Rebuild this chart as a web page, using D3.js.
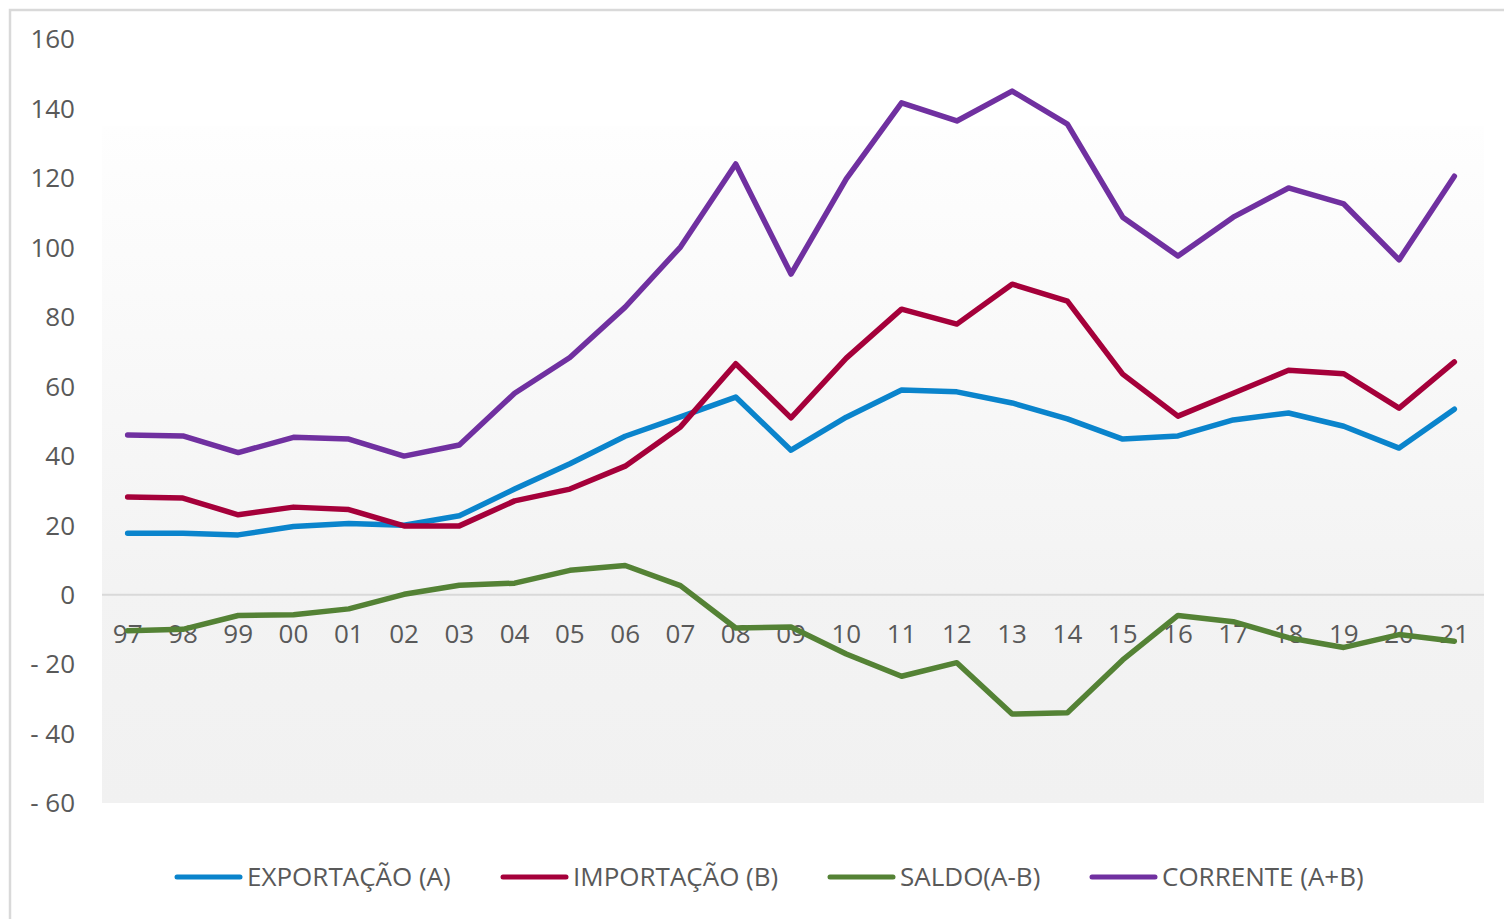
<!DOCTYPE html>
<html>
<head>
<meta charset="utf-8">
<script src="https://cdn.jsdelivr.net/npm/d3@7"></script>
<style>
  body { margin: 0; background: #fff; }
  text { font-family: "Open Sans", sans-serif; fill: #595959; }
</style>
</head>
<body>
<svg id="chart" width="1504" height="919"></svg>
<script>
var years = ["97","98","99","00","01","02","03","04","05","06","07","08","09","10","11","12","13","14","15","16","17","18","19","20","21"];

var exportacao = [17.7, 17.7, 17.2, 19.6, 20.5, 20.0, 22.7, 30.4, 37.7, 45.6, 51.2, 56.9, 41.6, 51.1, 58.9, 58.4, 55.2, 50.6, 44.8, 45.7, 50.3, 52.3, 48.5, 42.2, 53.4];
var importacao = [28.1, 27.8, 23.0, 25.2, 24.5, 19.8, 19.8, 27.0, 30.4, 37.0, 48.3, 66.5, 50.9, 68.1, 82.2, 77.9, 89.4, 84.5, 63.5, 51.4, 58.0, 64.6, 63.6, 53.7, 67.0];
var saldo      = [-10.4, -10.0, -6.0, -5.8, -4.1, 0.1, 2.7, 3.3, 7.0, 8.4, 2.6, -9.6, -9.3, -17.1, -23.5, -19.6, -34.4, -34.0, -18.8, -6.0, -7.8, -12.4, -15.2, -11.5, -13.4];
var corrente   = [46.0, 45.7, 40.9, 45.3, 44.8, 39.9, 43.1, 58.0, 68.3, 82.8, 100.1, 124.0, 92.3, 119.7, 141.6, 136.4, 145.0, 135.5, 108.7, 97.5, 108.7, 117.1, 112.5, 96.4, 120.5];

var seriesNames = ["EXPORTAÇÃO (A)", "IMPORTAÇÃO (B)", "SALDO(A-B)", "CORRENTE (A+B)"];
var seriesColors = ["#0a84cc", "#a5003a", "#548235", "#7030a0"];
var yTicks = [160, 140, 120, 100, 80, 60, 40, 20, 0, -20, -40, -60];

var svg = d3.select("#chart");

// outer chart border (cut off at right/bottom)
svg.append("rect")
    .attr("x", 10)
    .attr("y", 10)
    .attr("width", 1600)
    .attr("height", 1000)
    .attr("fill", "#fff")
    .attr("stroke", "#d9d9d9")
    .attr("stroke-width", 2.5);

var x = d3.scaleBand()
    .domain(years)
    .range([100, 1482]);

var y = d3.scaleLinear()
    .domain([-60, 160])
    .range([803, 39]);

// plot area background gradient
var grad = svg.append("defs").append("linearGradient")
    .attr("id", "bg")
    .attr("x1", 0).attr("y1", 0)
    .attr("x2", 0).attr("y2", 1);
grad.append("stop").attr("offset", "0%").attr("stop-color", "#fefefe");
grad.append("stop").attr("offset", "68%").attr("stop-color", "#f3f3f3");
grad.append("stop").attr("offset", "100%").attr("stop-color", "#f1f1f1");

svg.append("rect")
    .attr("x", 102)
    .attr("y", y(135))
    .attr("width", 1382)
    .attr("height", y(-60) - y(135))
    .attr("fill", "url(#bg)");

// zero line
svg.append("line")
    .attr("x1", 102)
    .attr("x2", 1484)
    .attr("y1", y(0))
    .attr("y2", y(0))
    .attr("stroke", "#d9d9d9")
    .attr("stroke-width", 2);

// y axis labels
svg.selectAll(".ylab")
    .data(yTicks)
  .enter().append("text")
    .attr("class", "ylab")
    .attr("x", 75)
    .attr("y", function(d) { return y(d); })
    .attr("dy", ".36em")
    .attr("text-anchor", "end")
    .style("font-size", "26px")
    .text(function(d) { return d < 0 ? "- " + Math.abs(d) : d; });

// x axis labels
svg.selectAll(".xlab")
    .data(years)
  .enter().append("text")
    .attr("class", "xlab")
    .attr("x", function(d) { return x(d) + x.bandwidth() / 2; })
    .attr("y", 643)
    .attr("text-anchor", "middle")
    .style("font-size", "26px")
    .text(function(d) { return d; });

var data = [exportacao, importacao, saldo, corrente];

var line = d3.line()
    .x(function(d, i) { return x(years[i]) + x.bandwidth() / 2; })
    .y(function(d) { return y(d); });

svg.selectAll(".serie")
    .data(data)
  .enter().append("path")
    .attr("class", "serie")
    .attr("d", line)
    .attr("fill", "none")
    .attr("stroke", function(d, i) { return seriesColors[i]; })
    .attr("stroke-width", 5.5)
    .attr("stroke-linejoin", "round")
    .attr("stroke-linecap", "round");

// legend
var legendX = [177, 503, 830, 1092];
var legend = svg.selectAll(".legend")
    .data(seriesNames)
  .enter().append("g")
    .attr("class", "legend")
    .attr("transform", function(d, i) { return "translate(" + legendX[i] + ",877)"; });

legend.append("line")
    .attr("x1", 0)
    .attr("x2", 63)
    .attr("stroke", function(d, i) { return seriesColors[i]; })
    .attr("stroke-width", 5)
    .attr("stroke-linecap", "round");

legend.append("text")
    .attr("x", 70)
    .attr("dy", ".36em")
    .style("font-size", "26px")
    .text(function(d) { return d; });
</script>
</body>
</html>
